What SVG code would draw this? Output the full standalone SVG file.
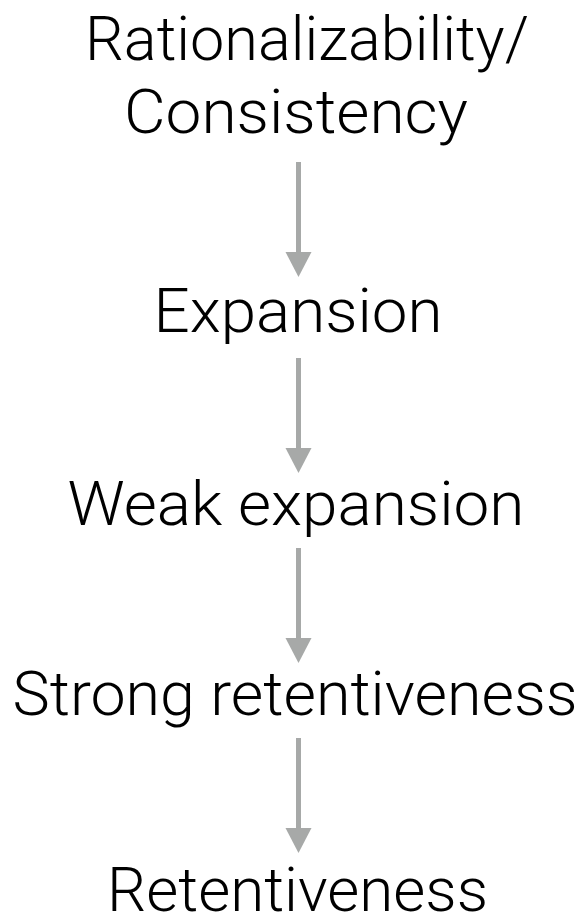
<svg xmlns="http://www.w3.org/2000/svg" width="587" height="923" viewBox="0 0 587 923">
<defs>
<style>
.lbl{font-family:Roboto,"Liberation Sans",Arial,sans-serif;font-weight:300;font-size:61px;fill:#000;text-anchor:middle}
.edge{stroke:#a7a9a8;stroke-width:5;fill:none}
.head{fill:#a7a9a8}
</style>
</defs>
<rect width="587" height="923" fill="#fff"/>
<g id="connectors">
<line class="edge" x1="298.5" y1="162" x2="298.5" y2="254"/>
<polygon class="head" points="285.5,252 311.5,252 298.5,277"/>
<line class="edge" x1="298.5" y1="358" x2="298.5" y2="450"/>
<polygon class="head" points="285.5,448 311.5,448 298.5,473"/>
<line class="edge" x1="298.5" y1="548" x2="298.5" y2="640"/>
<polygon class="head" points="285.5,638 311.5,638 298.5,663"/>
<line class="edge" x1="298.5" y1="738" x2="298.5" y2="830"/>
<polygon class="head" points="285.5,828 311.5,828 298.5,853"/>
</g>
<g id="node-rationalizability">
<text class="lbl" x="307" y="60" textLength="444" lengthAdjust="spacingAndGlyphs">Rationalizability/</text>
<text class="lbl" x="296" y="133" textLength="344" lengthAdjust="spacingAndGlyphs">Consistency</text>
</g>
<g id="node-expansion"><text class="lbl" x="298" y="332" textLength="289" lengthAdjust="spacingAndGlyphs">Expansion</text></g>
<g id="node-weak-expansion"><text class="lbl" x="296" y="525" textLength="457" lengthAdjust="spacingAndGlyphs">Weak expansion</text></g>
<g id="node-strong-retentiveness"><text class="lbl" x="295" y="715" textLength="565" lengthAdjust="spacingAndGlyphs">Strong retentiveness</text></g>
<g id="node-retentiveness"><text class="lbl" x="297.5" y="911" textLength="381" lengthAdjust="spacingAndGlyphs">Retentiveness</text></g>
</svg>
